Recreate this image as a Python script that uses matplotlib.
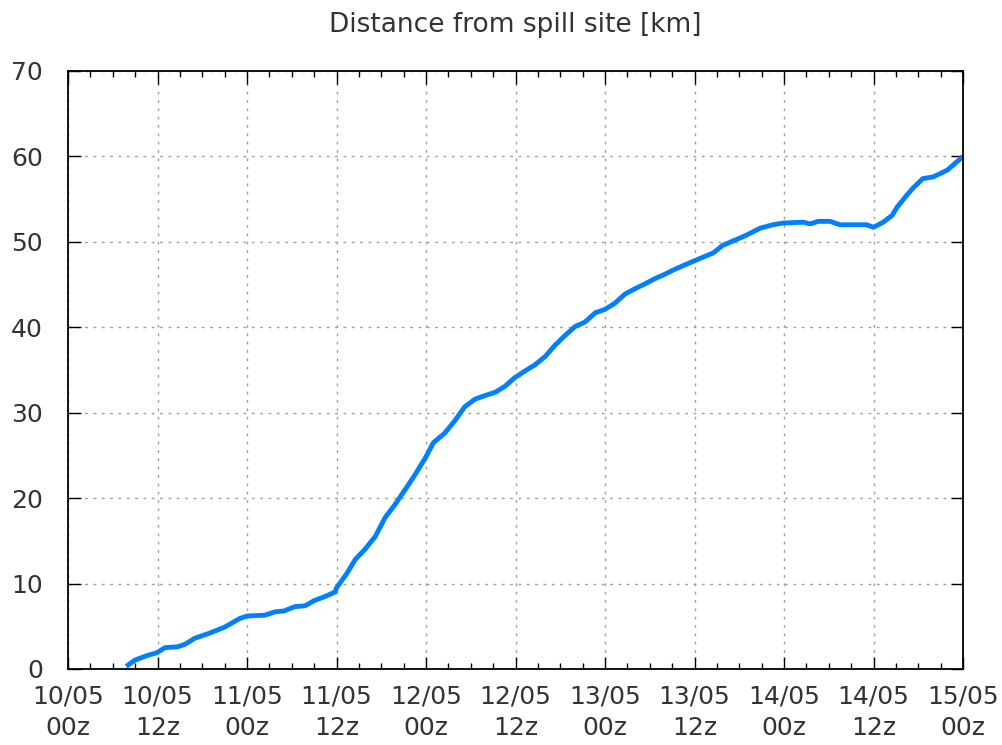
import numpy as np
import matplotlib
matplotlib.use("Agg")
import matplotlib.pyplot as plt
from matplotlib.ticker import MultipleLocator

# hours since 10/05 00z, distance in km
hours = [7.8, 9.0, 10.7, 11.9, 13.0, 14.7, 15.7, 17.0, 19.0, 21.0, 23.0, 24.0,
         26.4, 27.8, 29.0, 30.4, 31.8, 33.0, 34.5, 35.8, 36.0, 37.4, 38.5, 39.8,
         41.2, 42.5, 43.8, 45.2, 46.5, 47.9, 49.0, 50.5, 51.9, 53.2, 54.6, 55.9,
         57.3, 58.6, 59.9, 61.3, 62.6, 64.0, 65.3, 66.6, 68.0, 69.3, 70.7, 72.0,
         73.3, 74.7, 76.0, 77.4, 78.7, 80.0, 81.4, 82.7, 84.3, 86.5, 87.8, 89.7,
         91.0, 92.8, 94.5, 95.9, 98.6, 99.5, 100.6, 102.2, 103.5, 107.1, 108.0,
         109.3, 110.5, 111.2, 112.5, 113.3, 114.6, 116.0, 117.9, 120.0]
dist_km = [0.3, 1.05, 1.6, 1.9, 2.5, 2.6, 2.9, 3.6, 4.2, 4.9, 5.9, 6.2,
           6.3, 6.7, 6.8, 7.3, 7.4, 8.0, 8.5, 9.0, 9.5, 11.2, 12.8, 14.0,
           15.5, 17.7, 19.2, 21.0, 22.7, 24.7, 26.5, 27.6, 29.1, 30.7, 31.6, 32.0,
           32.4, 33.1, 34.1, 34.9, 35.6, 36.6, 37.9, 39.0, 40.1, 40.6, 41.7, 42.1,
           42.8, 43.9, 44.5, 45.1, 45.7, 46.2, 46.8, 47.3, 47.9, 48.7, 49.6, 50.3,
           50.8, 51.6, 52.0, 52.2, 52.3, 52.1, 52.4, 52.4, 52.0, 52.0, 51.7,
           52.3, 53.1, 54.1, 55.5, 56.3, 57.4, 57.6, 58.4, 60.0]

tick_hours = list(range(0, 121, 12))
tick_labels = ["10/05\n00z", "10/05\n12z", "11/05\n00z", "11/05\n12z",
               "12/05\n00z", "12/05\n12z", "13/05\n00z", "13/05\n12z",
               "14/05\n00z", "14/05\n12z", "15/05\n00z"]

fig = plt.figure(figsize=(10.02, 7.45), dpi=100)
ax = fig.add_axes([68/1002, 1-669/745, (963-68)/1002, (669-71)/745])

ax.plot(hours, dist_km, color="#0080ff", lw=3.5, solid_capstyle="butt")

ax.set_xlim(0, 120)
ax.set_ylim(0, 70)
ax.set_xticks(tick_hours)
ax.set_xticklabels(tick_labels)
ax.xaxis.set_minor_locator(MultipleLocator(3))
ax.yaxis.set_major_locator(MultipleLocator(10))

ax.tick_params(which="both", direction="in", top=True, right=True,
               labelsize=18, colors="black", width=1)
ax.tick_params(which="major", length=9)
ax.tick_params(which="minor", length=4)
ax.tick_params(axis="y", pad=18)
ax.tick_params(axis="x", pad=11)
for lbl in ax.get_xticklabels():
    lbl.set_linespacing(1.4)
for lbl in ax.get_xticklabels() + ax.get_yticklabels():
    lbl.set_color("#333333")

ax.grid(True, which="major", color="#a0a0a0", linestyle=(0, (2, 4)), lw=1)
for s in ax.spines.values():
    s.set_linewidth(1.3)

fig.text(515/1002, 1-32/745, "Distance from spill site [km]", ha="center",
         va="baseline", fontsize=19, color="#333333")

fig.savefig("out.png", dpi=100)
